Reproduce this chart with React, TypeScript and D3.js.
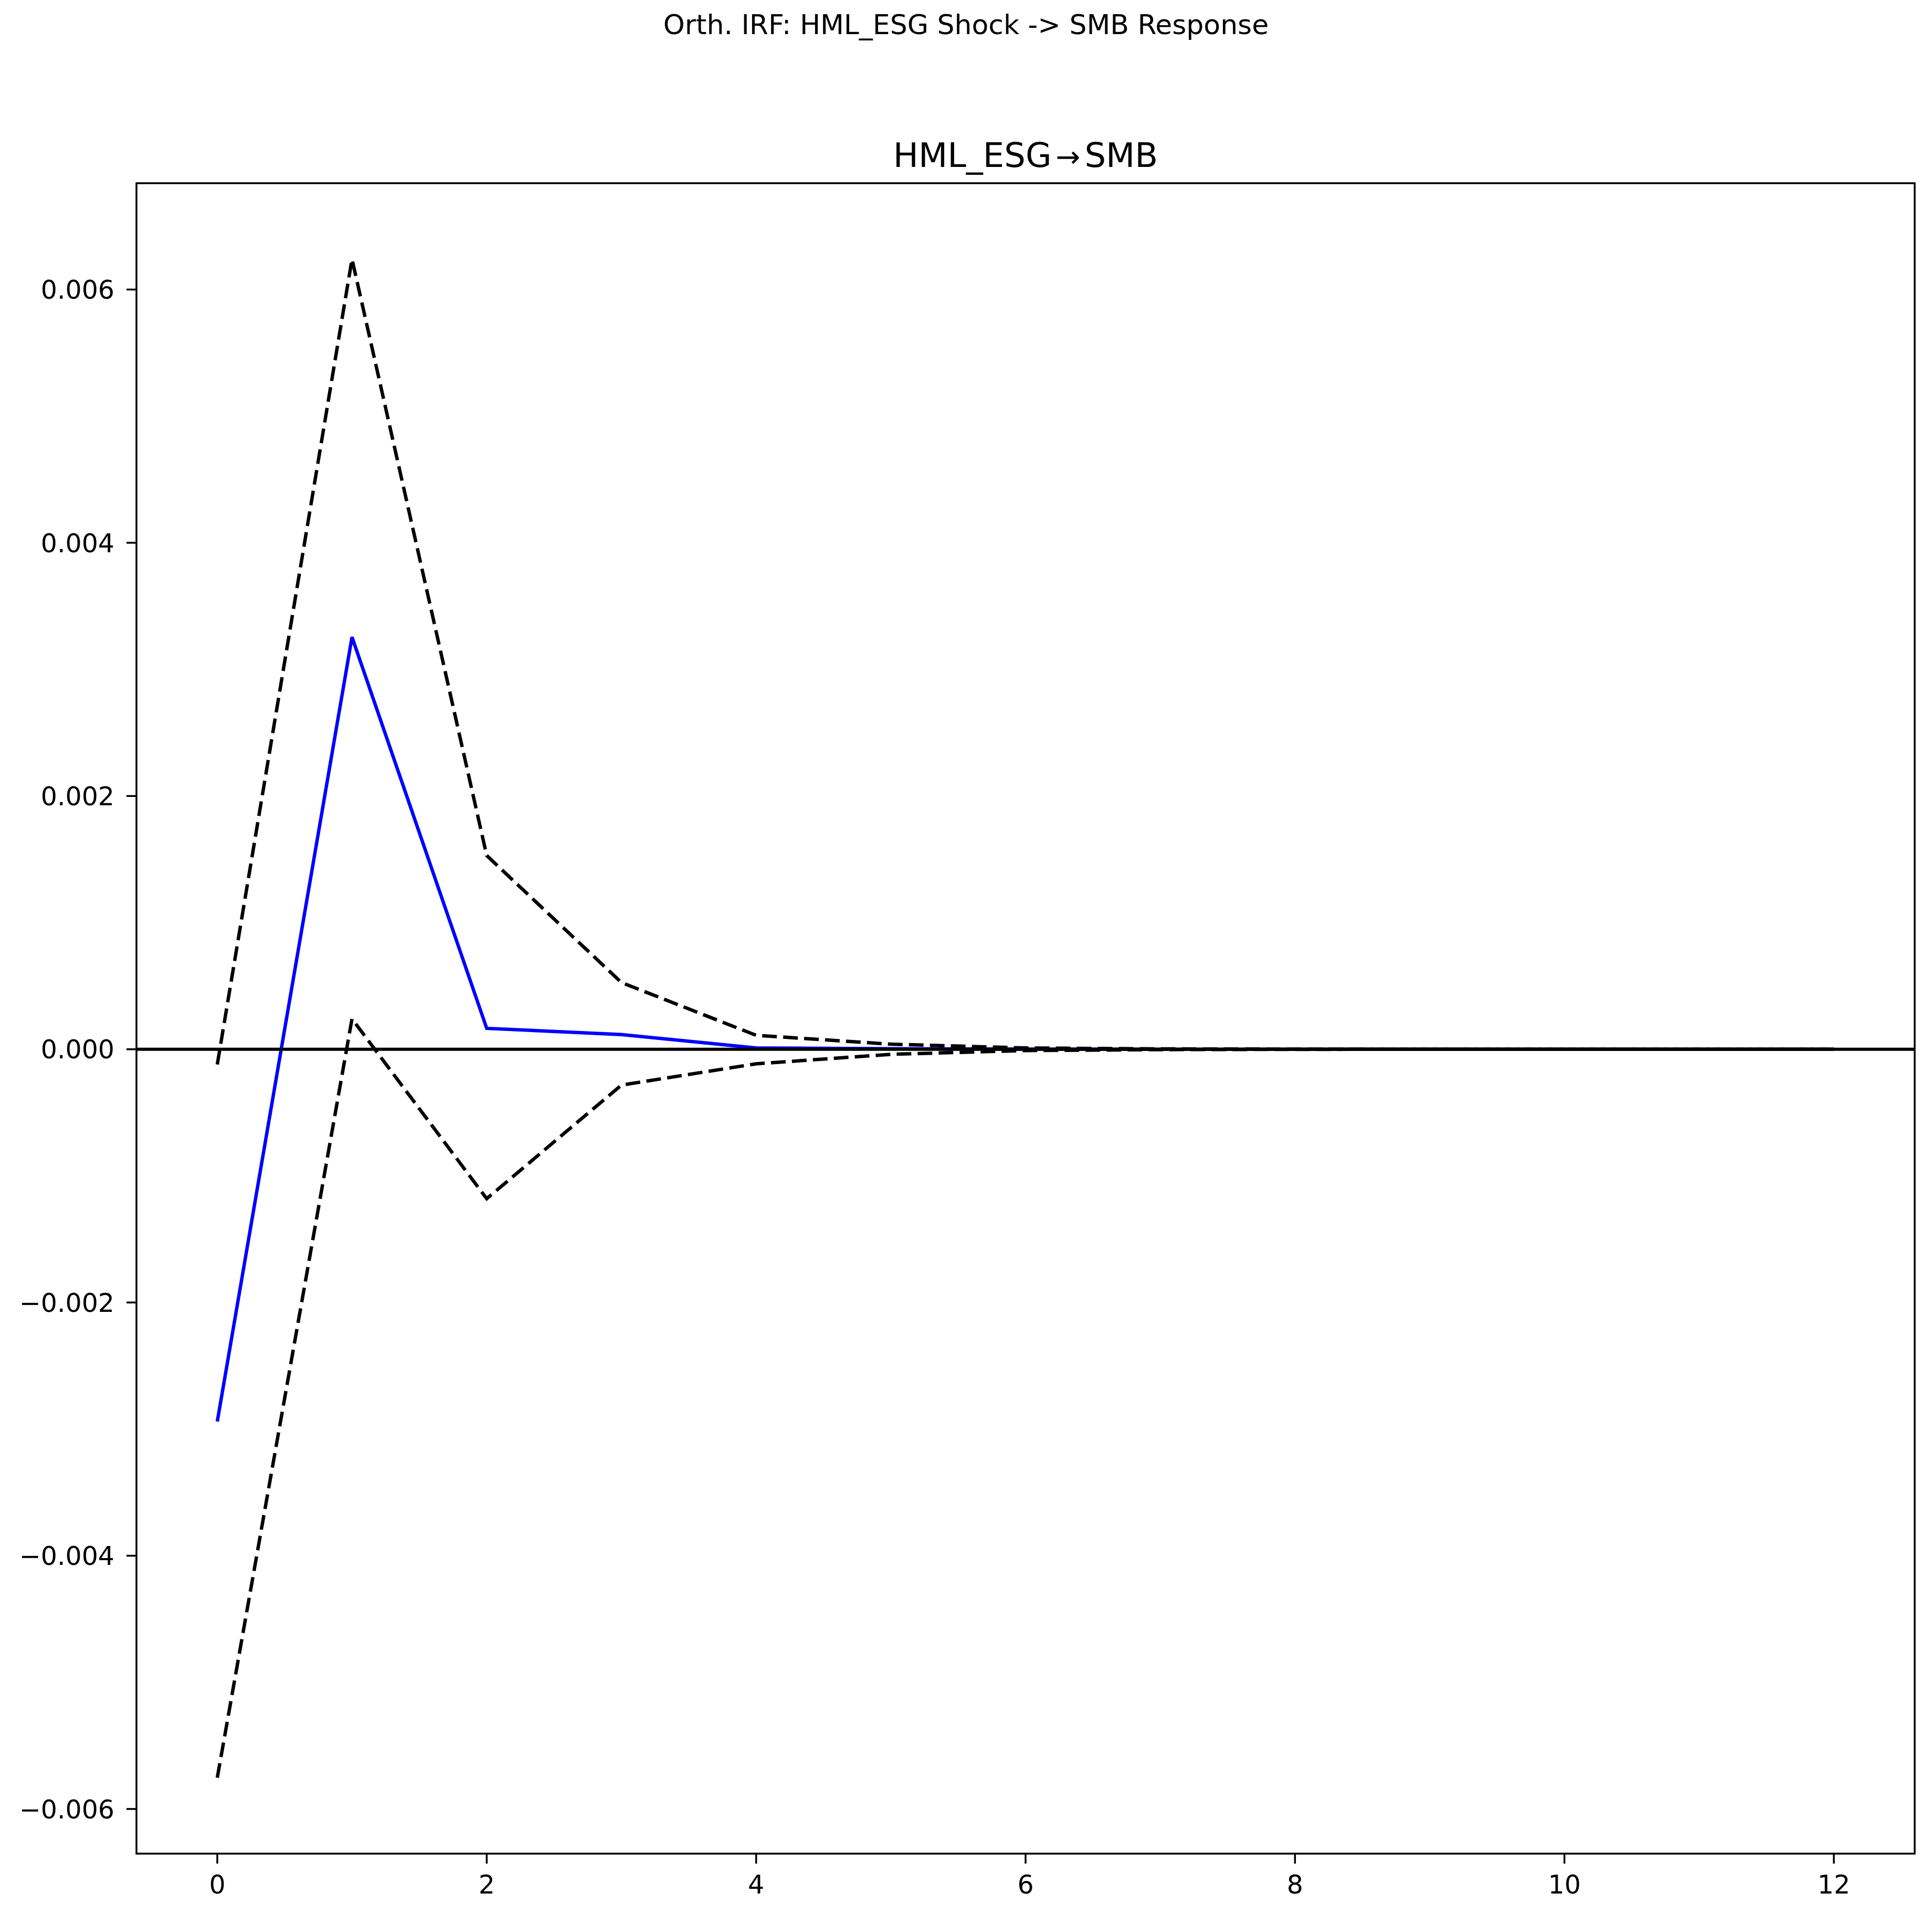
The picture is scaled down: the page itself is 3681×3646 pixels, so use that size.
import * as d3 from "d3";

// horizons and impulse response
const horizons = [0, 1, 2, 3, 4, 5, 6, 7, 8, 9, 10, 11, 12];
const irf = [-0.00294, 0.003255, 0.000165, 0.000116, 0.00001, 0.000004, 0.000001, 0, 0, 0, 0, 0, 0];
const upperBand = [-0.00012, 0.00624, 0.00153, 0.000527, 0.00011, 0.00004, 0.00001, 0.000003, 0.000001, 0, 0, 0, 0];
const lowerBand = [-0.005753, 0.00024, -0.00118, -0.000283, -0.000115, -0.00004, -0.00001, -0.000003, -0.000001, 0, 0, 0, 0];

const yTicks = [-0.006, -0.004, -0.002, 0, 0.002, 0.004, 0.006];
const xTicks = [0, 2, 4, 6, 8, 10, 12];

const suptitle = "Orth. IRF: HML_ESG Shock -> SMB Response";
const titleFrom = "HML_ESG";
const titleTo = "SMB";

const W = 3681;
const H = 3646;
const MARGIN = { top: 349, right: 33, bottom: 115, left: 260 };
const FONT = "DejaVu Sans, sans-serif";

export default function App() {
  const innerW = W - MARGIN.left - MARGIN.right;
  const innerH = H - MARGIN.top - MARGIN.bottom;

  // matplotlib-style 5% margins around the data
  const xScale = d3.scaleLinear().domain([-0.6, 12.6]).range([0, innerW]);
  const all = [...irf, ...upperBand, ...lowerBand];
  const lo = d3.min(all) ?? 0;
  const hi = d3.max(all) ?? 0;
  const pad = (hi - lo) * 0.05;
  const yScale = d3.scaleLinear().domain([lo - pad, hi + pad]).range([innerH, 0]);

  const line = d3
    .line<number>()
    .x((_, i) => xScale(horizons[i]))
    .y((d) => yScale(d));

  const fmt = (v: number) => (v < 0 ? "\u2212" : "") + d3.format(".3f")(Math.abs(v));

  return (
    <div style={{ position: "absolute", left: 0, top: 0 }}>
      <svg width={W} height={H} viewBox={`0 0 ${W} ${H}`} style={{ display: "block", background: "#fff" }}>
        <text x={W / 2} y={65} textAnchor="middle" fontFamily={FONT} fontSize={52} fill="#000">
          {suptitle}
        </text>
        <g transform={`translate(${MARGIN.left},${MARGIN.top})`}>
          <text x={innerW / 2} y={-31} textAnchor="middle" fontFamily={FONT} fontSize={64} fill="#000">
            {titleFrom}
            <tspan dx={8} fontSize={56}>{"\u2192"}</tspan>
            <tspan dx={8}>{titleTo}</tspan>
          </text>

          <path d={line(irf) ?? ""} fill="none" stroke="#0000ff" strokeWidth={6.5} />
          <path d={line(upperBand) ?? ""} fill="none" stroke="#000" strokeWidth={6.5} strokeDasharray="28,12" />
          <path d={line(lowerBand) ?? ""} fill="none" stroke="#000" strokeWidth={6.5} strokeDasharray="28,12" />
          <line x1={0} x2={innerW} y1={yScale(0)} y2={yScale(0)} stroke="#000" strokeWidth={6} />

          {/* y axis */}
          {yTicks.map((t) => (
            <g key={`y${t}`} transform={`translate(0,${yScale(t)})`}>
              <line x1={-19} x2={0} stroke="#000" strokeWidth={3.5} />
              <text x={-42} dy="0.36em" textAnchor="end" fontFamily={FONT} fontSize={49} fill="#000">
                {fmt(t)}
              </text>
            </g>
          ))}

          {/* x axis */}
          {xTicks.map((t) => (
            <g key={`x${t}`} transform={`translate(${xScale(t)},${innerH})`}>
              <line y1={0} y2={19} stroke="#000" strokeWidth={3.5} />
              <text y={76} textAnchor="middle" fontFamily={FONT} fontSize={49} fill="#000">
                {t}
              </text>
            </g>
          ))}

          <rect x={0} y={0} width={innerW} height={innerH} fill="none" stroke="#000" strokeWidth={3.5} />
        </g>
      </svg>
    </div>
  );
}
